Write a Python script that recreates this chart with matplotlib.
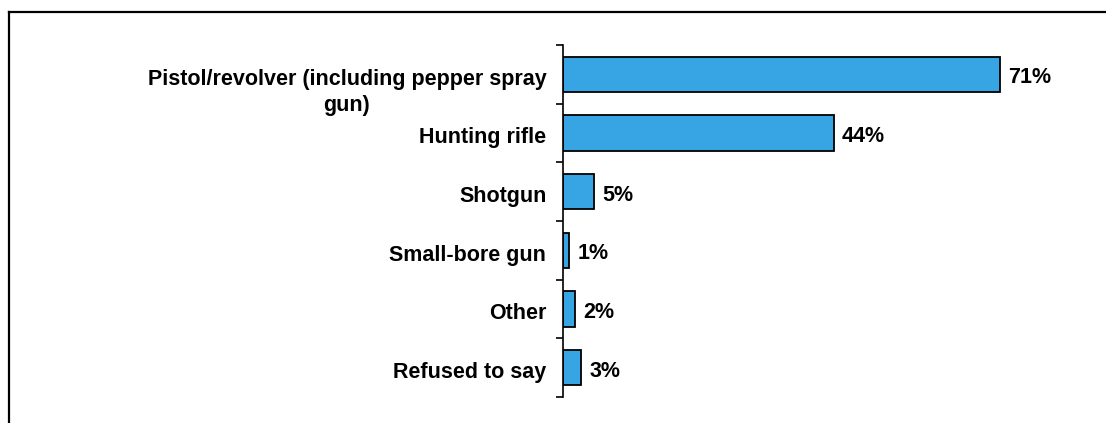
import matplotlib
matplotlib.use("Agg")
import matplotlib.pyplot as plt
from matplotlib.lines import Line2D

categories = ["Pistol/revolver (including pepper spray\ngun)", "Hunting rifle", "Shotgun",
              "Small-bore gun", "Other", "Refused to say"]
values = [71, 44, 5, 1, 2, 3]
value_labels = ["71%", "44%", "5%", "1%", "2%", "3%"]

plt.rcParams['font.family'] = ['Liberation Sans', 'DejaVu Sans']
FS = 15.5

W, H = 1106, 423
fig = plt.figure(figsize=(W / 100, H / 100), dpi=100)
ax = fig.add_axes([563 / W, 1 - 397 / H, 492 / W, (397 - 45) / H])

ypos = list(range(len(categories)))
ax.barh(ypos, values, height=0.6, color="#37A4E3", edgecolor="black", linewidth=1.3)
ax.set_xlim(0, 80)
ax.set_ylim(len(categories) - 0.5, -0.5)

ax.set_yticks([i - 0.5 for i in range(len(categories) + 1)])
ax.set_yticklabels([])
ax.tick_params(axis='y', length=5, width=1.2, direction='out')
ax.set_xticks([])
for s in ["top", "right", "bottom"]:
    ax.spines[s].set_visible(False)
ax.spines["left"].set_linewidth(1.2)

for i, (lab, v, vl) in enumerate(zip(categories, values, value_labels)):
    if "\n" in lab:
        ax.annotate(lab, xy=(0, i), xycoords=('axes fraction', 'data'),
                    xytext=(-12, 3.5), textcoords='offset points', ha='right', va='top',
                    multialignment='center', fontsize=FS, fontweight='bold', linespacing=1.3)
    else:
        ax.annotate(lab, xy=(0, i), xycoords=('axes fraction', 'data'),
                    xytext=(-12, -3.5), textcoords='offset points', ha='right', va='center',
                    fontsize=FS, fontweight='bold')
    ax.annotate(vl, xy=(v, i), xycoords='data', xytext=(6, -2.5), textcoords='offset points',
                ha='left', va='center', fontsize=FS, fontweight='bold')

fig.add_artist(Line2D([8.5 / W, 8.5 / W], [0, 1 - 12 / H], transform=fig.transFigure,
                      color="black", linewidth=1.6))
fig.add_artist(Line2D([8.5 / W, 1], [1 - 12 / H, 1 - 12 / H], transform=fig.transFigure,
                      color="black", linewidth=1.6))

fig.savefig("out.png", dpi=100)
